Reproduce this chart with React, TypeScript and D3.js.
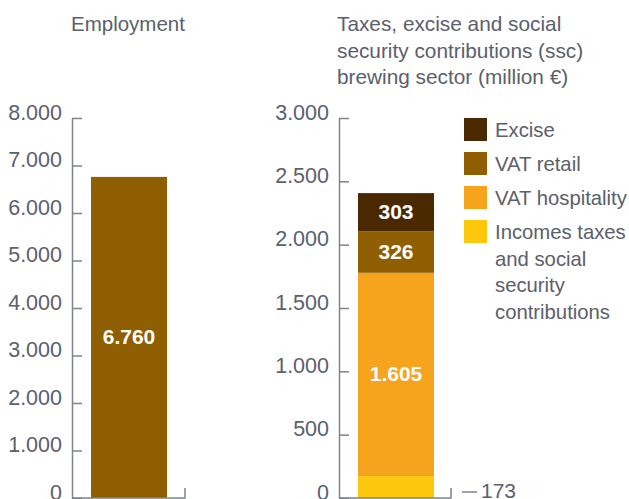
import React, { useEffect, useRef } from "react";
import * as d3 from "d3";

const employmentCategory = ["Employment"];
const employmentValues = [6760];
const employmentTicks = [0, 1000, 2000, 3000, 4000, 5000, 6000, 7000, 8000];

const taxSeries = ["Incomes taxes and social security contributions", "VAT hospitality", "VAT retail", "Excise"];
const taxValues = [173, 1605, 326, 303];
const taxColors = ["#fdc70c", "#f6a31e", "#8f5e00", "#4a2900"];
const taxTicks = [0, 500, 1000, 1500, 2000, 2500, 3000];

const legendItems = ["Excise", "VAT retail", "VAT hospitality", "Incomes taxes"];
const legendLines = [["Excise"], ["VAT retail"], ["VAT hospitality"], ["Incomes taxes", "and social", "security", "contributions"]];
const legendColors = ["#4a2900", "#8f5e00", "#f6a31e", "#fdc70c"];

const titleLeft = ["Employment"];
const titleRight = ["Taxes, excise and social", "security contributions (ssc)", "brewing sector (million \u20ac)"];

const FONT = "'Liberation Sans', Helvetica, Arial, sans-serif";
const TEXT = "#5b606b";
const AXIS = "#7e838c";

const fmt = (v: number) => d3.format(",")(v).replace(/,/g, ".");

export default function App() {
  const ref = useRef<SVGSVGElement>(null);

  useEffect(() => {
    const svg = d3.select(ref.current);
    svg.selectAll("*").remove();
    const base = 498, top = 118;

    // Titles
    svg.append("text").attr("x", 71).attr("y", 31).attr("font-size", 20.5).attr("fill", TEXT).attr("font-family", FONT).text(titleLeft[0]);
    titleRight.forEach((t, i) => {
      svg.append("text").attr("x", 337).attr("y", 31 + i * 26.6).attr("font-size", 20.8).attr("fill", TEXT).attr("font-family", FONT).text(t);
    });

    const drawAxis = (g: any, y: any, ticks: number[]) => {
      g.call(d3.axisLeft(y).tickValues(ticks).tickSizeInner(-10).tickSizeOuter(0).tickPadding(10).tickFormat((d: any) => fmt(d)));
      g.selectAll("path.domain").attr("stroke", AXIS).attr("stroke-width", 1.5);
      g.selectAll(".tick line").attr("stroke", AXIS).attr("stroke-width", 1.5);
      g.selectAll(".tick text").attr("fill", TEXT).attr("font-size", 21.5).attr("font-family", FONT).attr("dy", "0.05em");
    };

    // Left chart
    const yL = d3.scaleLinear().domain([0, 8000]).range([base, top]);
    const xL = d3.scaleBand().domain(employmentCategory).range([72, 186]).padding(0.2);
    const gL = svg.append("g").attr("transform", "translate(72,0)");
    drawAxis(gL, yL, employmentTicks);
    svg.append("g").selectAll("rect").data(employmentValues).join("rect")
      .attr("x", (_d, i) => xL(employmentCategory[i])!)
      .attr("width", xL.bandwidth())
      .attr("y", (d) => yL(d))
      .attr("height", (d) => base - yL(d))
      .attr("fill", "#8f5e00");
    svg.append("path").attr("d", `M72,${base}H185V${base - 10}`).attr("fill", "none").attr("stroke", AXIS).attr("stroke-width", 1.5);
    employmentValues.forEach((v, i) => {
      svg.append("text").attr("x", xL(employmentCategory[i])! + xL.bandwidth() / 2).attr("y", (yL(v) + base) / 2 + 7)
        .attr("text-anchor", "middle").attr("fill", "#fff").attr("font-weight", "bold").attr("font-size", 21).attr("font-family", FONT).text(fmt(v));
    });

    // Right chart
    const yR = d3.scaleLinear().domain([0, 3000]).range([base, top]);
    const xR = d3.scaleBand().domain(["Taxes"]).range([339, 453]).padding(0.2);
    const gR = svg.append("g").attr("transform", "translate(339,0)");
    drawAxis(gR, yR, taxTicks);
    let acc = 0;
    const stack = taxValues.map((v, i) => { const s = { y0: acc, y1: acc + v, v, c: taxColors[i], name: taxSeries[i] }; acc += v; return s; });
    svg.append("g").selectAll("rect").data(stack).join("rect")
      .attr("x", xR("Taxes")!).attr("width", xR.bandwidth())
      .attr("y", (d) => yR(d.y1)).attr("height", (d) => yR(d.y0) - yR(d.y1))
      .attr("fill", (d) => d.c);
    svg.append("path").attr("d", `M339,${base}H451V${base - 10}`).attr("fill", "none").attr("stroke", AXIS).attr("stroke-width", 1.5);
    stack.forEach((s, i) => {
      if (i === 0) return;
      svg.append("text").attr("x", xR("Taxes")! + xR.bandwidth() / 2).attr("y", (yR(s.y0) + yR(s.y1)) / 2 + 7)
        .attr("text-anchor", "middle").attr("fill", "#fff").attr("font-weight", "bold").attr("font-size", 21).attr("font-family", FONT).text(fmt(s.v));
    });
    // 173 annotation
    svg.append("line").attr("x1", 462).attr("x2", 477).attr("y1", 492).attr("y2", 492).attr("stroke", AXIS).attr("stroke-width", 1.5);
    svg.append("text").attr("x", 481).attr("y", 498).attr("font-size", 21).attr("fill", TEXT).attr("font-family", FONT).text(fmt(taxValues[0]));

    // Legend
    legendItems.forEach((name, i) => {
      const y0 = 118 + i * 34;
      svg.append("rect").attr("x", 464).attr("y", y0).attr("width", 23).attr("height", 23).attr("fill", legendColors[i]);
      legendLines[i].forEach((ln, j) => {
        svg.append("text").attr("x", 495).attr("y", y0 + 19 + j * 26.7).attr("font-size", 20.3).attr("fill", TEXT).attr("font-family", FONT).text(ln);
      });
    });
  }, []);

  return (
    <svg ref={ref} width={629} height={499} style={{ position: "absolute", left: 0, top: 0, background: "#fff" }} />
  );
}
